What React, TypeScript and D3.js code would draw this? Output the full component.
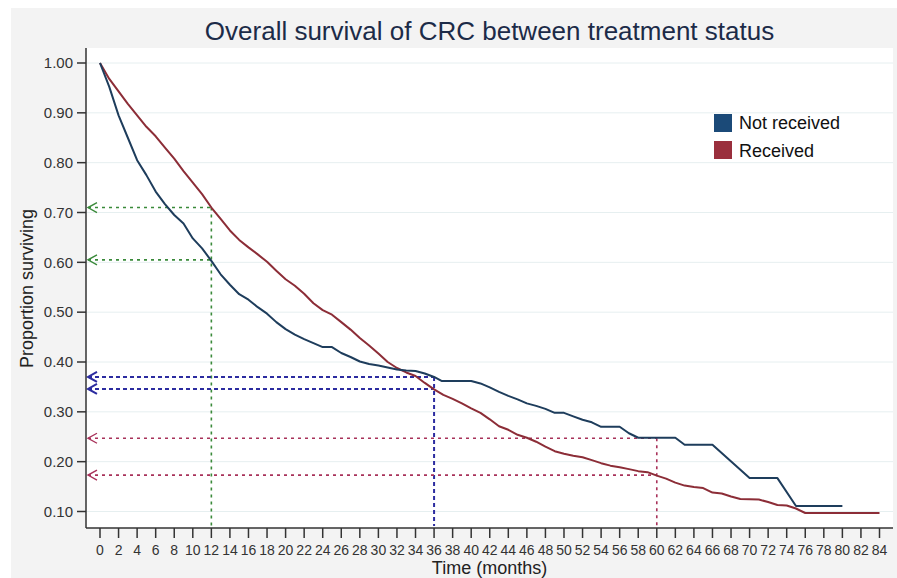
import React from "react";
import * as d3 from "d3";

const notReceivedMonths = [0,1,2,3,4,5,6,7,8,9,10,11,12,13,14,15,16,17,18,19,20,21,22,23,24,25,26,27,28,29,30,31,32,33,34,35,36,36.8,40,41,42,43,44,45,46,47,48,49,50,51,52,53,54,56,57,58,62,63,66,70,73,75,80];
const notReceivedSurv = [1.0,0.952,0.895,0.85,0.805,0.775,0.742,0.717,0.695,0.678,0.648,0.628,0.603,0.576,0.555,0.536,0.525,0.51,0.497,0.48,0.466,0.455,0.446,0.438,0.43,0.43,0.418,0.41,0.401,0.396,0.393,0.389,0.385,0.383,0.382,0.377,0.37,0.362,0.362,0.357,0.349,0.34,0.332,0.325,0.317,0.312,0.306,0.298,0.298,0.291,0.284,0.279,0.27,0.27,0.257,0.248,0.248,0.234,0.234,0.167,0.167,0.111,0.111];

const receivedMonths = [0,1,2,3,4,5,6,7,8,9,10,11,12,13,14,15,16,17,18,19,20,21,22,23,24,25,26,27,28,29,30,31,32,33,34,35,36,37,38,39,40,41,42,43,44,45,46,47,48,49,50,51,52,53,54,55,56,57,58,59,60,61,62,63,64,65,66,67,68,69,71,72,73,74,75,76,84];
const receivedSurv = [1.0,0.968,0.943,0.918,0.895,0.872,0.853,0.83,0.808,0.783,0.76,0.737,0.71,0.687,0.664,0.645,0.63,0.616,0.601,0.583,0.566,0.553,0.537,0.518,0.504,0.495,0.48,0.465,0.448,0.433,0.417,0.4,0.388,0.379,0.372,0.358,0.345,0.334,0.326,0.317,0.307,0.298,0.285,0.271,0.264,0.254,0.248,0.24,0.23,0.221,0.216,0.212,0.209,0.203,0.197,0.192,0.189,0.185,0.181,0.179,0.172,0.166,0.158,0.152,0.149,0.147,0.138,0.136,0.13,0.125,0.124,0.119,0.113,0.112,0.106,0.097,0.097];

const yTicks = [0.1,0.2,0.3,0.4,0.5,0.6,0.7,0.8,0.9,1.0];
const xTicks = d3.range(0, 85, 2);

const seriesNames = ["Not received", "Received"];

// Reference guides: month and survival levels read at that month
const guideMonths = [12, 36, 60];
const guideLevels = [[0.71, 0.605], [0.37, 0.346], [0.247, 0.173]];

const W = 897, H = 578;
const plotL = 86, plotR = 893, plotT = 48, plotB = 528;

const x = d3.scaleLinear().domain([0, 84]).range([100, 879.5]);
const y = d3.scaleLinear().domain([0.1, 1.0]).range([511.5, 63]);

const lineColors = ["#1e3d5c", "#8c2d37"];
const legendColors = ["#1b4a78", "#9a2f3d"];
const guideColors = ["#3a8a3a", "#2c2ca0", "#a8325a"];

export default function App() {
  const line = d3.line<[number, number]>().x(d => x(d[0])).y(d => y(d[1]));
  const blue = line(notReceivedMonths.map((m, i) => [m, notReceivedSurv[i]] as [number, number]));
  const red = line(receivedMonths.map((m, i) => [m, receivedSurv[i]] as [number, number]));
  const font = "Liberation Sans, Arial, Helvetica, sans-serif";

  return (
    <svg width={W} height={H} style={{ position: "absolute", left: 0, top: 0 }} fontFamily={font}>
      <rect x={0} y={0} width={W} height={H} fill="#ffffff" />
      <rect x={11} y={8} width={W - 11} height={H - 8} fill="#f3f3f3" />
      <rect x={plotL} y={plotT} width={plotR - plotL} height={plotB - plotT} fill="#ffffff" />

      {/* gridlines */}
      {yTicks.map(t => (
        <line key={"g" + t} x1={plotL} x2={plotR} y1={y(t)} y2={y(t)} stroke="#e6eff0" strokeWidth={1} />
      ))}

      {/* title */}
      <text x={(plotL + plotR) / 2} y={40} textAnchor="middle" fontSize={26} fill="#1c2b48">
        Overall survival of CRC between treatment status
      </text>

      {/* guide lines */}
      {guideMonths.map((m, gi) => {
        const c = guideColors[gi];
        const dash = gi === 1 ? "4,3" : "3,4";
        const sw = gi === 1 ? 2 : 1.6;
        const levels = guideLevels[gi];
        return (
          <g key={"guide" + m}>
            {levels.map(v => (
              <g key={v}>
                <line x1={88} x2={x(m)} y1={y(v)} y2={y(v)} stroke={c} strokeWidth={sw} strokeDasharray={dash} />
                <polyline points={`${97},${y(v) - 5} ${88},${y(v)} ${97},${y(v) + 5}`} fill="none" stroke={c} strokeWidth={gi === 1 ? 2 : 1.4} />
              </g>
            ))}
            <line x1={x(m)} x2={x(m)} y1={y(levels[0])} y2={plotB - 2} stroke={c} strokeWidth={sw} strokeDasharray={dash} />
          </g>
        );
      })}

      {/* curves */}
      <path d={red || ""} fill="none" stroke={lineColors[1]} strokeWidth={2} strokeLinejoin="round" />
      <path d={blue || ""} fill="none" stroke={lineColors[0]} strokeWidth={2} strokeLinejoin="round" />

      {/* axes */}
      <line x1={plotL} x2={plotL} y1={plotT} y2={plotB} stroke="#333" strokeWidth={1.5} />
      <line x1={plotL} x2={plotR} y1={plotB} y2={plotB} stroke="#333" strokeWidth={1.5} />
      {yTicks.map(t => (
        <g key={"yt" + t}>
          <line x1={77} x2={plotL} y1={y(t)} y2={y(t)} stroke="#333" strokeWidth={1.5} />
          <text x={73} y={y(t)} dy="0.35em" textAnchor="end" fontSize={15} fill="#333">{t.toFixed(2)}</text>
        </g>
      ))}
      {xTicks.map(t => (
        <g key={"xt" + t}>
          <line x1={x(t)} x2={x(t)} y1={plotB} y2={plotB + 10} stroke="#333" strokeWidth={1.5} />
          <text x={x(t)} y={555} textAnchor="middle" fontSize={14} fill="#333">{t}</text>
        </g>
      ))}

      <text x={(plotL + plotR) / 2} y={574} textAnchor="middle" fontSize={18} fill="#222">Time (months)</text>
      <text transform={`translate(33,${288.5}) rotate(-90)`} textAnchor="middle" fontSize={18} fill="#222">Proportion surviving</text>

      {/* legend */}
      {seriesNames.map((n, i) => (
        <g key={n}>
          <rect x={714} y={114 + i * 27} width={18} height={18} fill={legendColors[i]} />
          <text x={739} y={129 + i * 27.5} fontSize={18} fill="#111">{n}</text>
        </g>
      ))}
    </svg>
  );
}
